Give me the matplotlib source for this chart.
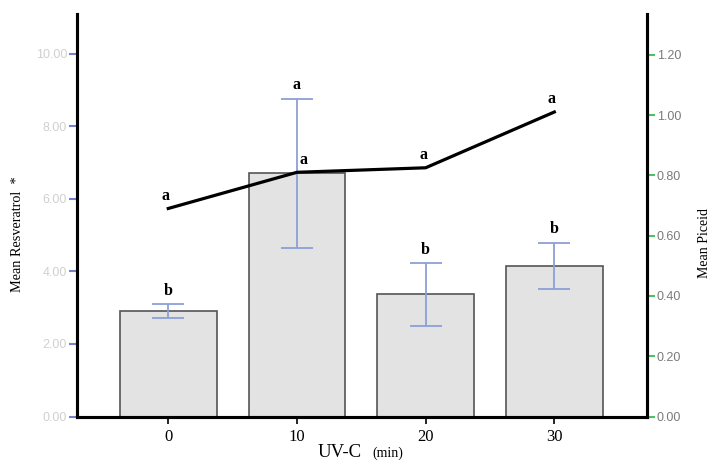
import matplotlib.pyplot as plt

# --- data ---
uvc_minutes = ['0', '10', '20', '30']
resveratrol_mean = [2.91, 6.70, 3.37, 4.15]
resveratrol_low = [2.72, 4.65, 2.50, 3.51]
resveratrol_high = [3.10, 8.75, 4.23, 4.79]
resveratrol_letters = ['b', 'a', 'b', 'b']
piceid_mean = [0.69, 0.81, 0.825, 1.01]
piceid_letters = ['a', 'a', 'a', 'a']

left_ticks = [0, 2, 4, 6, 8, 10]
right_ticks = [0.0, 0.2, 0.4, 0.6, 0.8, 1.0, 1.2]

serif = 'Liberation Serif'
sans = 'Liberation Sans'

fig = plt.figure(figsize=(7.12, 4.61), dpi=100)
ax = fig.add_axes([0.108, 0.0965, 0.8007, 0.8731])
ax2 = ax.twinx()

x = list(range(len(uvc_minutes)))

# bars with error bars (left axis)
ax.bar(x, resveratrol_mean, width=0.75, color='#e3e3e3', edgecolor='#555555',
       linewidth=1.2, zorder=2)
yerr = [[m - lo for m, lo in zip(resveratrol_mean, resveratrol_low)],
        [hi - m for m, hi in zip(resveratrol_mean, resveratrol_high)]]
ax.errorbar(x, resveratrol_mean, yerr=yerr, fmt='none', ecolor='#8c9fd6',
            elinewidth=1.3, capsize=11.5, capthick=1.3, zorder=3)
for xi, hi, lab in zip(x, resveratrol_high, resveratrol_letters):
    ax.text(xi, hi + 0.15, lab, ha='center', va='bottom', fontsize=11.5,
            family=serif, fontweight='bold', zorder=4)

# piceid line (right axis)
ax2.plot(x, piceid_mean, color='black', linewidth=2.3, zorder=5)
for xi, yi, lab in zip(x, piceid_mean, piceid_letters):
    dx = 0.05 if xi == 1 else -0.02
    ax2.text(xi + dx, yi + 0.015, lab, ha='center', va='bottom', fontsize=11.5,
             family=serif, fontweight='bold')

ax.set_xlim(-0.71, 3.72)
ax.set_ylim(0, 11.09)
ax2.set_ylim(0, 1.335)

ax.set_xticks(x)
ax.set_xticklabels(uvc_minutes, family=serif, fontsize=12)
ax.tick_params(axis='x', length=5, width=1.2, color='black', pad=4)

ax.set_yticks(left_ticks)
ax.set_yticklabels([f'{v:.2f}' for v in left_ticks], family=sans, fontsize=9,
                   color='#d0d0d0')
ax.tick_params(axis='y', length=6, width=1.5, color='#6f84cc', pad=1)

ax2.set_yticks(right_ticks)
ax2.set_yticklabels([f'{v:.2f}' for v in right_ticks], family=sans, fontsize=9,
                    color='#7a7a7a')
ax2.tick_params(axis='y', length=6, width=1.5, color='#4cc068', pad=1)

for a in (ax, ax2):
    a.spines['top'].set_visible(False)
    for s in ('left', 'right', 'bottom'):
        a.spines[s].set_linewidth(2.2)
        a.spines[s].set_color('black')

# axis titles placed as figure text
fig.text(18 / 712, 1 - 234 / 461, 'Mean Resveratrol  *', family=serif,
         fontsize=10.3, rotation=90, ha='center', va='center')
fig.text(705 / 712, 1 - 243 / 461, 'Mean Piceid', family=serif,
         fontsize=10, rotation=90, ha='center', va='center')
fig.text(318 / 712, 1 - 457 / 461, 'UV-C', family=serif, fontsize=13.5,
         ha='left', va='baseline')
fig.text(372 / 712, 1 - 457 / 461, '(min)', family=serif, fontsize=10,
         ha='left', va='baseline')

fig.savefig('out.png', dpi=100)
